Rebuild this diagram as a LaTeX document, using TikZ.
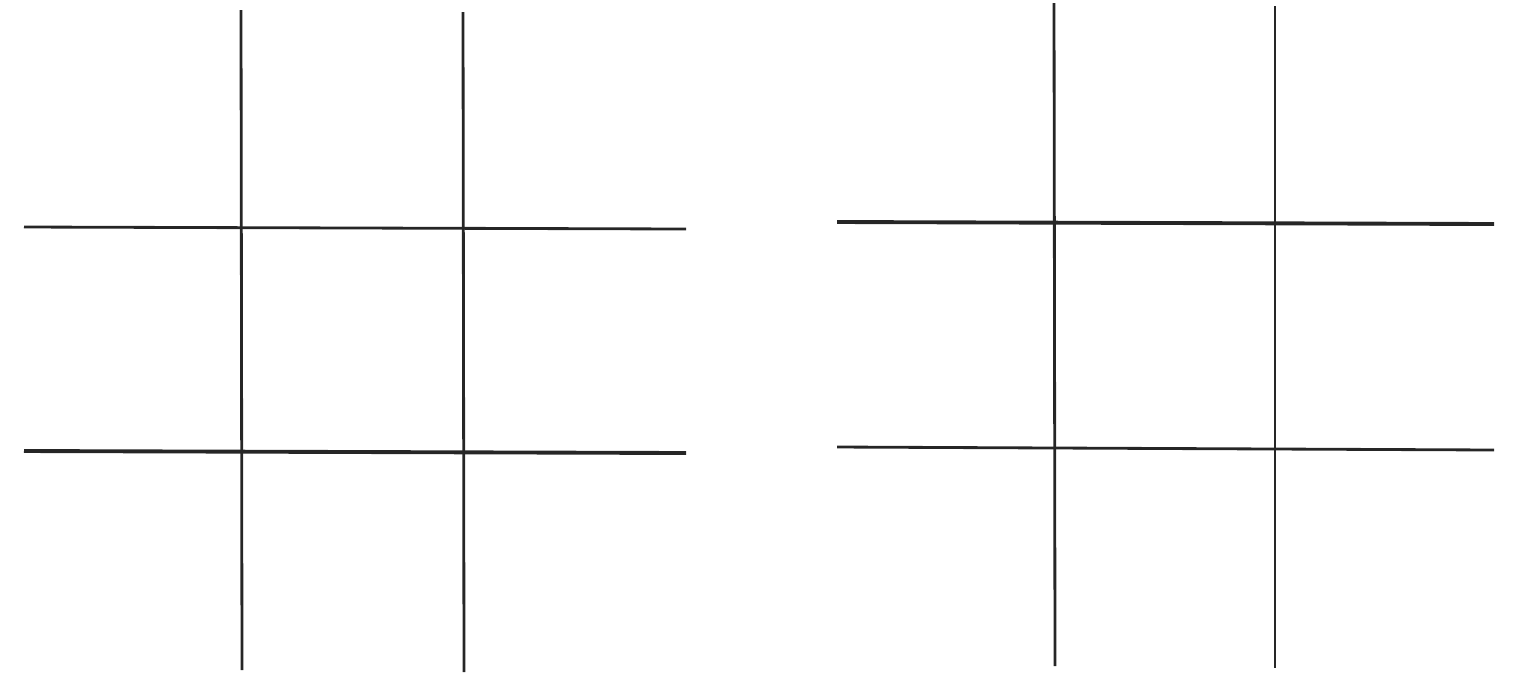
\documentclass[tikz,border=0pt]{standalone}
\begin{document}
\begin{tikzpicture}[x=0.01cm,y=-0.01cm,gridline/.style={draw=black!85,line width=0.8pt}]
\useasboundingbox (0,0) rectangle (1519,681);
% left grid
\draw[gridline] (241,10) -- (242,670);
\draw[gridline] (463,12) -- (464,672);
\draw[gridline] (24,227) -- (686,229);
\draw[gridline,line width=1.1pt] (24,451) -- (686,453);
% right grid
\draw[gridline] (1054,3) -- (1055,666);
\draw[gridline] (1275,6) -- (1275,668);
\draw[gridline,line width=1.1pt] (837,222) -- (1494,224);
\draw[gridline] (837,447) -- (1494,450);
\end{tikzpicture}
\end{document}
